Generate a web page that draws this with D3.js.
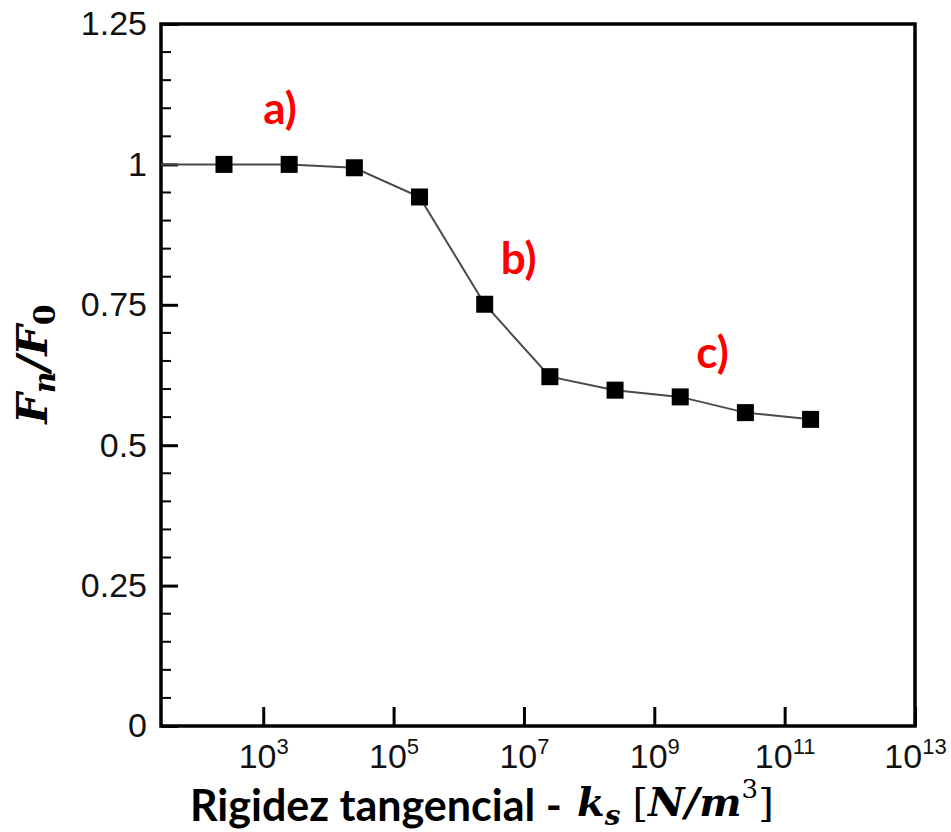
<!DOCTYPE html>
<html>
<head>
<meta charset="utf-8">
<script src="https://cdn.jsdelivr.net/npm/d3@7/dist/d3.min.js"></script>
<style>
	html, body { margin: 0; padding: 0; background: #fff; }
	svg { display: block; }
</style>
</head>
<body>
<div id="chart"></div>
<script>
/**
 * Data
 */
let stiffness = [2.5e2, 2.5e3, 2.5e4, 2.5e5, 2.5e6, 2.5e7, 2.5e8, 2.5e9, 2.5e10, 2.5e11];
let forceRatio = [1.0, 1.0, 0.994, 0.942, 0.751, 0.622, 0.598, 0.586, 0.558, 0.546];
let xDomain = [27, 1e13];
let yDomain = [0, 1.25];
let xTickPowers = [3, 5, 7, 9, 11, 13];
let yTickValues = [0, 0.25, 0.5, 0.75, 1, 1.25];
let annotations = [
	{ label: "a)", k: 1.0e3, f: 1.072 },
	{ label: "b)", k: 4.4e6, f: 0.805 },
	{ label: "c)", k: 4.4e9, f: 0.637 }
];

/**
 * Chart Dimensions
 */
let width = 951;
let height = 832;
let margin = { top: 24, right: 36, bottom: 106, left: 161 };
let chartW = width - margin.left - margin.right;
let chartH = height - margin.top - margin.bottom;

let svg = d3.select("#chart").append("svg")
	.attr("width", width)
	.attr("height", height);

let chart = svg.append("g")
	.attr("transform", "translate(" + margin.left + "," + margin.top + ")");

/**
 * Scales
 */
let xScale = d3.scaleLog().domain(xDomain).range([0, chartW]);
let yScale = d3.scaleLinear().domain(yDomain).range([chartH, 0]);

let points = stiffness.map(function(k, i) { return { k: k, f: forceRatio[i] }; });
// the curve runs in from the left axis at the first value
let linePoints = [{ k: xDomain[0], f: forceRatio[0] }].concat(points);

// Y minor ticks (every 0.05)
let yMinor = d3.range(0, 1.25001, 0.05).filter(function(v) {
	return Math.abs(v / 0.25 - Math.round(v / 0.25)) > 1e-6;
});
chart.append("g")
	.selectAll("line")
	.data(yMinor)
	.enter().append("line")
	.attr("x1", 0)
	.attr("x2", 10)
	.attr("y1", function(d) { return yScale(d); })
	.attr("y2", function(d) { return yScale(d); })
	.attr("stroke", "#000")
	.attr("stroke-width", 2);

// Y Axis
let yAxis = d3.axisLeft(yScale)
	.tickValues(yTickValues)
	.tickSize(-17)
	.tickPadding(14)
	.tickFormat(function(d) { return d3.format("")(d); });

let yAxisG = chart.append("g").call(yAxis);
yAxisG.select(".domain").remove();
yAxisG.selectAll(".tick line").attr("stroke", "#000").attr("stroke-width", 3);
yAxisG.selectAll(".tick text")
	.attr("font-family", "Liberation Sans, Arial, sans-serif")
	.attr("font-size", 34)
	.attr("fill", "#111");

// X Axis
let xAxis = d3.axisBottom(xScale)
	.tickValues(xTickPowers.map(function(p) { return Math.pow(10, p); }))
	.tickSize(-19)
	.tickFormat("");

let xAxisG = chart.append("g")
	.attr("transform", "translate(0," + chartH + ")")
	.call(xAxis);
xAxisG.select(".domain").remove();
xAxisG.selectAll(".tick line").attr("stroke", "#000").attr("stroke-width", 3);

let xLabels = xAxisG.selectAll(".tick")
	.append("text")
	.attr("y", 42)
	.attr("fill", "#111")
	.attr("text-anchor", "middle")
	.attr("font-family", "Liberation Sans, Arial, sans-serif")
	.attr("font-size", 34);
xLabels.append("tspan").text("10");
xLabels.append("tspan")
	.attr("dy", -14)
	.attr("font-size", 22)
	.text(function(d, i) { return xTickPowers[i]; });

// Frame
chart.append("rect")
	.attr("width", chartW)
	.attr("height", chartH)
	.attr("fill", "none")
	.attr("stroke", "#000")
	.attr("stroke-width", 3.5);

// Line
let line = d3.line()
	.x(function(d) { return xScale(d.k); })
	.y(function(d) { return yScale(d.f); });

chart.append("path")
	.datum(linePoints)
	.attr("d", line)
	.attr("fill", "none")
	.attr("stroke", "#4a4a4a")
	.attr("stroke-width", 2);

// Markers
let size = 17;
chart.selectAll(".marker")
	.data(points)
	.enter().append("rect")
	.attr("class", "marker")
	.attr("x", function(d) { return xScale(d.k) - size / 2; })
	.attr("y", function(d) { return yScale(d.f) - size / 2; })
	.attr("width", size)
	.attr("height", size)
	.attr("fill", "#000");

// Annotations
chart.selectAll(".note")
	.data(annotations)
	.enter().append("text")
	.attr("class", "note")
	.attr("x", function(d) { return xScale(d.k); })
	.attr("y", function(d) { return yScale(d.f); })
	.attr("fill", "#ff0000")
	.attr("font-family", "Lato, Open Sans, sans-serif")
	.attr("font-weight", "bold")
	.attr("font-size", 44)
	.text(function(d) { return d.label; });

// X title
svg.append("text")
	.attr("x", 190)
	.attr("y", 821)
	.attr("font-family", "Lato, Open Sans, sans-serif")
	.attr("font-weight", "bold")
	.attr("font-size", 43)
	.attr("fill", "#000")
	.text("Rigidez tangencial -");

let mathT = svg.append("text")
	.attr("x", 577)
	.attr("y", 816)
	.attr("font-family", "DejaVu Serif, serif")
	.attr("font-size", 40)
	.attr("fill", "#000");
mathT.append("tspan").attr("font-weight", "bold").attr("font-style", "italic").text("k");
mathT.append("tspan").attr("font-weight", "bold").attr("font-style", "italic")
	.attr("font-size", 28).attr("dy", 9).text("s");
mathT.append("tspan").attr("dy", -9).attr("dx", 12).text("[");
mathT.append("tspan").attr("font-weight", "bold").attr("font-style", "italic").text("N/m");
mathT.append("tspan").attr("font-size", 26).attr("dy", -18).text("3");
mathT.append("tspan").attr("dy", 18).text("]");

// Y title
let yT = svg.append("text")
	.attr("transform", "translate(47,364) rotate(-90)")
	.attr("text-anchor", "middle")
	.attr("font-family", "DejaVu Serif, serif")
	.attr("font-weight", "bold")
	.attr("font-size", 43)
	.attr("fill", "#000");
yT.append("tspan").attr("font-style", "italic").text("F");
yT.append("tspan").attr("font-style", "italic").attr("font-size", 30).attr("dy", 8).text("n");
yT.append("tspan").attr("font-style", "italic").attr("dy", -8).text("/F");
yT.append("tspan").attr("font-size", 30).attr("dy", 8).text("0");
</script>
</body>
</html>
